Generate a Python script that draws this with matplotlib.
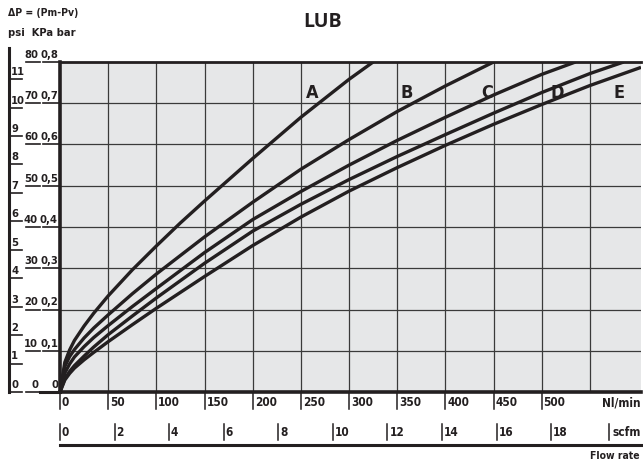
import numpy as np
import matplotlib
matplotlib.use("Agg")
import matplotlib.pyplot as plt
import matplotlib.transforms as mtransforms

# flow rate (Nl/min) and pressure drop (bar)
q_a = [0, 5, 10, 15, 25, 35, 50, 75, 100, 125, 150, 200, 250, 300, 325]
dp_a = [0, 0.072, 0.102, 0.125, 0.16, 0.191, 0.233, 0.296, 0.354, 0.41, 0.463, 0.566, 0.666, 0.758, 0.80]
q_b = [0, 5, 10, 15, 25, 35, 50, 75, 100, 150, 200, 250, 300, 350, 400, 450]
dp_b = [0, 0.062, 0.086, 0.103, 0.131, 0.155, 0.187, 0.238, 0.286, 0.376, 0.46, 0.54, 0.612, 0.68, 0.742, 0.80]
q_c = [0, 5, 10, 15, 25, 35, 50, 75, 100, 150, 200, 250, 300, 350, 400, 450, 500, 535]
dp_c = [0, 0.046, 0.068, 0.085, 0.11, 0.132, 0.161, 0.207, 0.251, 0.338, 0.418, 0.486, 0.55, 0.61, 0.666,
        0.72, 0.77, 0.80]
q_d = [0, 5, 10, 15, 25, 35, 50, 75, 100, 150, 200, 250, 300, 350, 400, 450, 500, 550, 585]
dp_d = [0, 0.032, 0.05, 0.064, 0.087, 0.109, 0.139, 0.184, 0.228, 0.312, 0.39, 0.455, 0.515, 0.571, 0.624,
        0.676, 0.726, 0.772, 0.80]
q_e = [0, 5, 10, 15, 25, 35, 50, 75, 100, 150, 200, 250, 300, 350, 400, 450, 500, 550, 603]
dp_e = [0, 0.029, 0.045, 0.058, 0.078, 0.096, 0.122, 0.163, 0.203, 0.28, 0.355, 0.424, 0.487, 0.544, 0.598,
        0.649, 0.697, 0.743, 0.787]
curve_names = ["A", "B", "C", "D", "E"]
label_x = [262, 360, 443, 516, 580]

x_ticks = [0, 50, 100, 150, 200, 250, 300, 350, 400, 450, 500]
scfm_ticks = [0, 2, 4, 6, 8, 10, 12, 14, 16, 18]
bar_ticks = [0, 0.1, 0.2, 0.3, 0.4, 0.5, 0.6, 0.7, 0.8]
bar_labels = ["0", "0,1", "0,2", "0,3", "0,4", "0,5", "0,6", "0,7", "0,8"]
kpa_labels = ["0", "10", "20", "30", "40", "50", "60", "70", "80"]
psi_ticks = list(range(0, 12))

PSI_TO_BAR = 0.0689476
SCFM_TO_NL = 28.3168

narrow = ["DejaVu Sans"]
ink = "#231f20"
lbl = dict(fontsize=8.5, fontweight="bold", family=narrow, fontstretch="condensed", color=ink)
side = dict(lbl, fontsize=8)

fig = plt.figure(figsize=(6.43, 4.65), dpi=100)
W, H = 643.0, 465.0
ax = fig.add_axes([60 / W, 1 - 392 / H, 581 / W, 330 / H])
ax.set_facecolor("#e6e7e8")
ax.set_xlim(0, 603)
ax.set_ylim(0, 0.8)

# grid
for x in x_ticks[1:] + [550]:
    ax.axvline(x, color="#3a3a3a", lw=0.9, zorder=1)
for y in bar_ticks[1:-1]:
    ax.axhline(y, color="#3a3a3a", lw=0.9, zorder=1)

series = [(q_a, dp_a), (q_b, dp_b), (q_c, dp_c), (q_d, dp_d), (q_e, dp_e)]
for (q, dp), name, lx in zip(series, curve_names, label_x):
    ax.plot(q, dp, color=ink, lw=2.4, zorder=3, solid_capstyle="butt", solid_joinstyle="round")
    ax.text(lx, 0.724, name, ha="center", va="center", fontsize=13,
            fontweight="bold", family=narrow, fontstretch="condensed", color=ink)

ax.spines["right"].set_visible(False)
ax.spines["top"].set_linewidth(2.0)
ax.spines["left"].set_linewidth(2.6)
ax.spines["bottom"].set_linewidth(2.6)
for s in ax.spines.values():
    s.set_color(ink)
ax.set_xticks([])
ax.set_yticks([])

# left scales (x in figure pixels, y in bar)
tl = mtransforms.blended_transform_factory(fig.transFigure, ax.transData)
px = lambda v: v / W
ax.plot([px(9), px(9)], [0, 0.835], transform=tl, color=ink, lw=2.2, clip_on=False)
for p in psi_ticks:
    yb = p * PSI_TO_BAR
    ax.plot([px(9), px(22)], [yb, yb], transform=tl, color=ink, lw=1.2, clip_on=False)
    ax.text(px(11), yb + 0.005, str(p), transform=tl, ha="left", va="bottom", **side)
ax.plot([px(40), px(60)], [0, 0], transform=tl, color=ink, lw=2.2, clip_on=False)
for yb, kl, bl in zip(bar_ticks, kpa_labels, bar_labels):
    ax.plot([px(26), px(40)], [yb, yb], transform=tl, color=ink, lw=1.2, clip_on=False)
    ax.plot([px(43), px(60)], [yb, yb], transform=tl, color=ink, lw=1.2, clip_on=False)
    ax.text(px(38), yb + 0.005, kl, transform=tl, ha="right", va="bottom", **side)
    ax.text(px(58), yb + 0.005, bl, transform=tl, ha="right", va="bottom", **side)

# bottom scales (x in Nl/min, y in figure pixels)
tb = mtransforms.blended_transform_factory(ax.transData, fig.transFigure)
py = lambda v: 1 - v / H
for x in x_ticks:
    ax.plot([x, x], [py(392), py(409)], transform=tb, color=ink, lw=1.1, clip_on=False)
    ax.text(x + 2, py(402), str(x), transform=tb, ha="left", va="center", **lbl)
ax.text(603, py(403), "Nl/min", transform=tb, ha="right", va="center", **lbl)
for s in scfm_ticks:
    x = s * SCFM_TO_NL
    ax.plot([x, x], [py(424), py(440)], transform=tb, color=ink, lw=1.1, clip_on=False)
    ax.text(x + 2, py(432), str(s), transform=tb, ha="left", va="center", **lbl)
ax.plot([570, 570], [py(424), py(440)], transform=tb, color=ink, lw=1.1, clip_on=False)
ax.text(603, py(432), "scfm", transform=tb, ha="right", va="center", **lbl)
ax.plot([0, 603], [py(445), py(445)], transform=tb, color=ink, lw=2.2, clip_on=False)

small = dict(lbl, fontsize=7.5)
fig.text(640 / W, py(456), "Flow rate", ha="right", va="center", **small)
fig.text(8 / W, py(13), "\u0394P = (Pm-Pv)", ha="left", va="center", **small)
fig.text(8 / W, py(33), "psi  KPa bar", ha="left", va="center", **side)
fig.text(323 / W, py(22), "LUB", ha="center", va="center", fontsize=14,
         fontweight="bold", family=["Open Sans", "DejaVu Sans"], color=ink)

fig.savefig("out.png", dpi=100)
